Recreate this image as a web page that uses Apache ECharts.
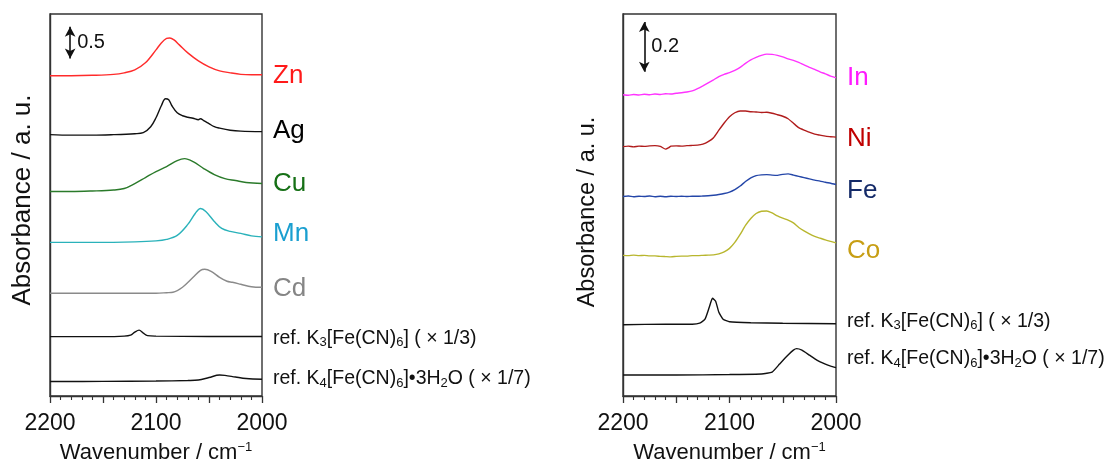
<!DOCTYPE html>
<html>
<head>
<meta charset="utf-8">
<title>IR spectra – CN stretching region</title>
<script src="https://cdn.jsdelivr.net/npm/echarts@6/dist/echarts.min.js"></script>
<style>
  html, body { margin: 0; padding: 0; background: #fff; }
  #chart { width: 1116px; height: 469px; }
</style>
</head>
<body>
<div id="chart"></div>
<script>
// ---- Spectra: [wavenumber (cm-1), absorbance incl. stacking offset] ----
// Left panel
const zn = [[2200,5.029],[2180,5.030],[2160,5.037],[2140,5.052],[2130,5.076],[2120,5.123],[2110,5.233],[2100,5.436],[2095,5.546],[2090,5.617],[2087,5.624],[2083,5.593],[2078,5.515],[2070,5.389],[2060,5.264],[2050,5.170],[2040,5.107],[2030,5.076],[2020,5.052],[2010,5.045],[2000,5.045]];
const ag = [[2200,4.105],[2180,4.097],[2160,4.097],[2140,4.105],[2120,4.120],[2112,4.136],[2105,4.230],[2100,4.371],[2095,4.559],[2091,4.669],[2088,4.653],[2085,4.559],[2080,4.449],[2075,4.402],[2070,4.379],[2065,4.363],[2060,4.340],[2058,4.355],[2055,4.324],[2050,4.277],[2045,4.230],[2040,4.207],[2030,4.175],[2020,4.160],[2000,4.152]];
const cu = [[2200,3.212],[2180,3.212],[2160,3.220],[2140,3.235],[2130,3.259],[2120,3.337],[2110,3.431],[2100,3.525],[2090,3.603],[2080,3.697],[2073,3.729],[2065,3.682],[2055,3.572],[2045,3.478],[2035,3.415],[2025,3.384],[2015,3.353],[2000,3.337]];
const mn = [[2200,2.413],[2160,2.413],[2120,2.421],[2100,2.436],[2090,2.460],[2080,2.522],[2070,2.695],[2063,2.867],[2058,2.945],[2053,2.898],[2045,2.742],[2038,2.632],[2030,2.585],[2020,2.554],[2010,2.515],[2000,2.499]];
const cd = [[2200,1.614],[2150,1.614],[2100,1.614],[2090,1.622],[2084,1.629],[2075,1.708],[2065,1.864],[2058,1.974],[2054,1.990],[2048,1.958],[2040,1.864],[2033,1.802],[2028,1.786],[2020,1.755],[2010,1.716],[2000,1.708]];
const k3Left = [[2200,0.932],[2150,0.932],[2130,0.940],[2124,0.956],[2120,1.003],[2116,1.034],[2112,0.987],[2108,0.948],[2100,0.940],[2050,0.935],[2000,0.935]];
const k4Left = [[2200,0.227],[2150,0.230],[2100,0.235],[2070,0.243],[2060,0.251],[2050,0.290],[2040,0.329],[2035,0.324],[2025,0.298],[2015,0.274],[2000,0.262]];

// Right panel
const inSp = [[2200,1.208],[2195,1.206],[2190,1.209],[2185,1.207],[2180,1.210],[2175,1.208],[2170,1.211],[2165,1.209],[2160,1.212],[2155,1.211],[2150,1.214],[2145,1.216],[2140,1.219],[2135,1.224],[2130,1.233],[2125,1.244],[2120,1.256],[2115,1.268],[2110,1.281],[2105,1.290],[2100,1.297],[2095,1.306],[2090,1.318],[2085,1.334],[2080,1.348],[2075,1.358],[2070,1.366],[2065,1.371],[2060,1.370],[2055,1.366],[2050,1.360],[2045,1.352],[2040,1.346],[2035,1.338],[2030,1.328],[2025,1.318],[2020,1.310],[2015,1.300],[2010,1.292],[2005,1.283],[2000,1.276]];
const ni = [[2200,1.000],[2195,1.002],[2190,0.999],[2185,1.002],[2180,1.001],[2175,1.003],[2170,1.004],[2165,1.001],[2160,0.990],[2157,0.996],[2155,1.002],[2150,1.003],[2145,1.002],[2140,1.004],[2135,1.005],[2130,1.006],[2125,1.010],[2120,1.020],[2115,1.036],[2110,1.066],[2105,1.095],[2100,1.120],[2095,1.136],[2090,1.143],[2085,1.143],[2080,1.140],[2075,1.139],[2070,1.137],[2065,1.138],[2060,1.134],[2055,1.128],[2050,1.122],[2045,1.112],[2040,1.094],[2035,1.076],[2030,1.066],[2025,1.058],[2020,1.050],[2015,1.046],[2010,1.042],[2005,1.040],[2000,1.038]];
const fe = [[2200,0.800],[2195,0.802],[2190,0.799],[2185,0.801],[2180,0.800],[2175,0.802],[2170,0.799],[2165,0.801],[2160,0.799],[2155,0.801],[2150,0.800],[2145,0.801],[2140,0.800],[2135,0.801],[2130,0.801],[2125,0.802],[2120,0.803],[2115,0.805],[2110,0.808],[2105,0.812],[2100,0.818],[2095,0.828],[2090,0.842],[2085,0.860],[2080,0.875],[2075,0.884],[2070,0.887],[2065,0.888],[2060,0.886],[2055,0.885],[2050,0.889],[2045,0.891],[2040,0.886],[2035,0.881],[2030,0.876],[2025,0.871],[2020,0.866],[2015,0.862],[2010,0.857],[2005,0.853],[2000,0.848]];
const co = [[2200,0.564],[2195,0.563],[2190,0.565],[2185,0.563],[2180,0.564],[2175,0.562],[2170,0.562],[2165,0.560],[2160,0.559],[2155,0.558],[2150,0.560],[2145,0.561],[2140,0.561],[2135,0.563],[2130,0.563],[2125,0.564],[2120,0.565],[2115,0.566],[2110,0.570],[2105,0.578],[2100,0.592],[2095,0.616],[2090,0.648],[2085,0.684],[2080,0.712],[2075,0.732],[2070,0.741],[2065,0.742],[2060,0.734],[2055,0.722],[2050,0.713],[2045,0.705],[2040,0.694],[2035,0.676],[2030,0.662],[2025,0.650],[2020,0.640],[2015,0.633],[2010,0.626],[2005,0.620],[2000,0.614]];
const k3Right = [[2200,0.286],[2160,0.288],[2135,0.288],[2128,0.292],[2123,0.308],[2119,0.356],[2116,0.392],[2113,0.380],[2110,0.336],[2106,0.308],[2100,0.298],[2080,0.294],[2050,0.292],[2000,0.290]];
const k4Right = [[2200,0.084],[2150,0.084],[2100,0.086],[2070,0.088],[2060,0.096],[2053,0.128],[2045,0.164],[2040,0.184],[2037,0.190],[2032,0.184],[2025,0.164],[2018,0.144],[2010,0.128],[2005,0.120],[2000,0.114]];

// Axis ticks and scale bars
const xTickLabels = [2200, 2100, 2000];
const scaleLeft = 0.5;   // absorbance span of the left scale bar
const scaleRight = 0.2;  // absorbance span of the right scale bar

// ---- Presentation ----
const FONT = "Arial, 'Liberation Sans', Helvetica, sans-serif";
const refRich = {
  t: { fontSize: 19.5, fontFamily: FONT, color: '#111', lineHeight: 22, verticalAlign: 'middle' },
  s: { fontSize: 13, fontFamily: FONT, color: '#111', lineHeight: 14, verticalAlign: 'bottom' }
};
const k3Text = '{t|ref. K}{s|3}{t|[Fe(CN)}{s|6}{t|] ( × 1/3)}';
const k4Text = '{t|ref. K}{s|4}{t|[Fe(CN)}{s|6}{t|]•3H}{s|2}{t|O ( × 1/7)}';

// [grid index, data, line colour, label text, label colour, label anchor y, rich?]
const spectra = [
  [0, zn, '#ff2b2b', 'Zn', '#ff1a1a', 5.045, false],
  [0, ag, '#111111', 'Ag', '#000000', 4.183, false],
  [0, cu, '#2a7a2a', 'Cu', '#167016', 3.353, false],
  [0, mn, '#2ab2ba', 'Mn', '#1a9fd0', 2.569, false],
  [0, cd, '#8a8a8a', 'Cd', '#858585', 1.692, false],
  [0, k3Left, '#111111', k3Text, '#111', 0.909, true],
  [0, k4Left, '#111111', k4Text, '#111', 0.266, true],
  [1, inSp, '#ff33ff', 'In', '#ff1aff', 1.280, false],
  [1, ni, '#b01c1c', 'Ni', '#c00000', 1.036, false],
  [1, fe, '#2446a8', 'Fe', '#142a68', 0.828, false],
  [1, co, '#b8b62e', 'Co', '#c79e14', 0.588, false],
  [1, k3Right, '#111111', k3Text, '#111', 0.300, true],
  [1, k4Right, '#111111', k4Text, '#111', 0.148, true]
];

const series = [];
spectra.forEach(function (s) {
  series.push({
    type: 'line', xAxisIndex: s[0], yAxisIndex: s[0], data: s[1],
    showSymbol: false, symbol: 'none', smooth: s[0] === 0 ? 0.35 : 0.15,
    lineStyle: { color: s[2], width: 1.4 }, silent: true, animation: false
  });
  // name tag just right of the frame
  series.push({
    type: 'scatter', xAxisIndex: s[0], yAxisIndex: s[0],
    data: [[2000, s[5]]], symbolSize: 0, silent: true, animation: false,
    itemStyle: { opacity: 1 },
    label: s[6] ? {
      show: true, position: 'right', distance: 11, formatter: s[3], rich: refRich
    } : {
      show: true, position: 'right', distance: 11, offset: [0, 1], formatter: s[3],
      color: s[4], fontSize: 26, fontFamily: FONT
    }
  });
});

// scale bars
function scaleBar(idx, wn, y0, span, text) {
  series.push({
    type: 'line', xAxisIndex: idx, yAxisIndex: idx, data: [], silent: true, animation: false,
    markLine: {
      silent: true, animation: false, symbol: ['arrow', 'arrow'], symbolSize: [8, 10],
      label: { show: false },
      lineStyle: { color: '#111', width: 1.6, type: 'solid' },
      data: [[{ coord: [wn, y0] }, { coord: [wn, y0 + span] }]]
    }
  });
  series.push({
    type: 'scatter', xAxisIndex: idx, yAxisIndex: idx, silent: true, animation: false,
    data: [[wn, y0 + span / 2]], symbolSize: 0, itemStyle: { opacity: 1 },
    label: { show: true, position: 'right', distance: 7, formatter: text,
             color: '#111', fontSize: 20, fontFamily: FONT }
  });
}
scaleBar(0, 2181, 5.30, scaleLeft, String(scaleLeft));
scaleBar(1, 2180, 1.30, scaleRight, String(scaleRight));

function xAxis(idx) {
  return {
    type: 'value', gridIndex: idx, inverse: true, min: 2000, max: 2200, interval: 50,
    name: '{a|Wavenumber / cm}{b|−1}', nameLocation: 'middle', nameGap: 45,
    nameTextStyle: { rich: {
      a: { fontSize: 22, fontFamily: FONT, color: '#111', lineHeight: 24 },
      b: { fontSize: 13, fontFamily: FONT, color: '#111', lineHeight: 12, verticalAlign: 'top' }
    } },
    axisLine: { show: true, lineStyle: { color: '#333', width: 1.4 } },
    axisTick: { show: true, inside: false, length: 7, lineStyle: { color: '#333', width: 1.3 } },
    minorTick: { show: true, splitNumber: 5, length: 4, lineStyle: { color: '#333', width: 1.1 } },
    splitLine: { show: false },
    axisLabel: {
      margin: 16, fontSize: 23, fontFamily: FONT, color: '#111',
      showMinLabel: true, showMaxLabel: true,
      formatter: function (v) { return xTickLabels.indexOf(v) >= 0 ? String(v) : ''; }
    }
  };
}
function yAxis(idx, max) {
  return {
    type: 'value', gridIndex: idx, min: 0, max: max,
    axisLine: { show: true, lineStyle: { color: '#333', width: 1.4 } },
    axisTick: { show: false }, axisLabel: { show: false }, splitLine: { show: false }
  };
}
function yName(x, y, size) {
  return {
    type: 'text', x: x, y: y, rotation: Math.PI / 2, silent: true,
    style: { text: 'Absorbance / a. u.', fontSize: size, fontFamily: FONT, fill: '#111',
             textAlign: 'center', textVerticalAlign: 'middle' }
  };
}

const chart = echarts.init(document.getElementById('chart'), null, { renderer: 'canvas' });
chart.setOption({
  backgroundColor: '#ffffff',
  animation: false,
  grid: [
    { left: 50, top: 14, width: 212, height: 383, show: true, borderColor: '#333', borderWidth: 1.4, backgroundColor: 'transparent' },
    { left: 623, top: 14, width: 213, height: 383, show: true, borderColor: '#333', borderWidth: 1.4, backgroundColor: 'transparent' }
  ],
  xAxis: [xAxis(0), xAxis(1)],
  yAxis: [yAxis(0, 6.0), yAxis(1, 1.532)],
  graphic: [yName(23, 200, 26), yName(588, 212, 23.5)],
  series: series
});
</script>
</body>
</html>
